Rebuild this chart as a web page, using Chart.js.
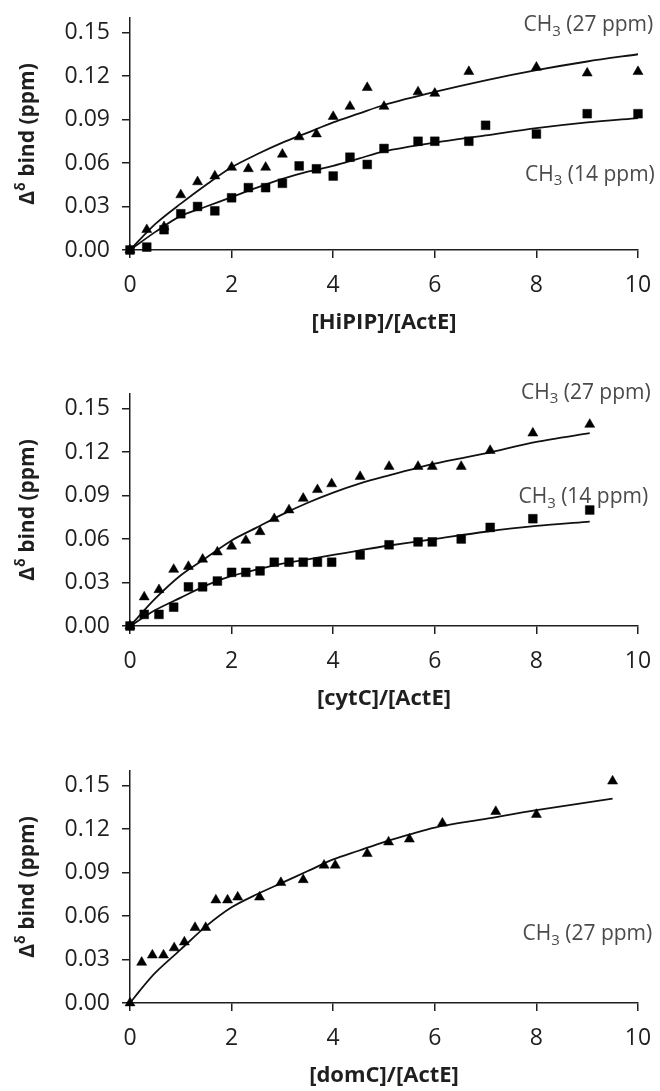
<!DOCTYPE html>
<html>
<head>
<meta charset="utf-8">
<script src="https://cdn.jsdelivr.net/npm/chart.js@4.4.1/dist/chart.umd.min.js"></script>
<style>
  html, body { margin: 0; padding: 0; background: #fff; overflow: hidden; width: 660px; height: 1091px; }
  .panel { position: absolute; left: 0; }
</style>
</head>
<body>
<canvas id="hipip" class="panel" width="660" height="345" style="top:0px"></canvas>
<canvas id="cytc" class="panel" width="660" height="345" style="top:376px"></canvas>
<canvas id="domc" class="panel" width="660" height="345" style="top:753px"></canvas>
<script>
// ---- data ----
// [HiPIP]/[ActE]
const hipipX27 = [0, 0.33, 0.67, 1, 1.33, 1.67, 2, 2.33, 2.67, 3, 3.33, 3.67, 4, 4.33, 4.67, 5, 5.67, 6, 6.67, 8, 9, 10];
const hipipY27 = [0, 0.014, 0.016, 0.038, 0.047, 0.051, 0.057, 0.056, 0.057, 0.066, 0.078, 0.080, 0.092, 0.099, 0.112, 0.099, 0.109, 0.108, 0.123, 0.126, 0.122, 0.123];
const hipipX14 = [0, 0.33, 0.67, 1, 1.33, 1.67, 2, 2.33, 2.67, 3, 3.33, 3.67, 4, 4.33, 4.67, 5, 5.67, 6, 6.67, 7, 8, 9, 10];
const hipipY14 = [0, 0.002, 0.014, 0.025, 0.030, 0.027, 0.036, 0.043, 0.043, 0.046, 0.058, 0.056, 0.051, 0.064, 0.059, 0.070, 0.075, 0.075, 0.075, 0.086, 0.080, 0.094, 0.094];
const hipipFitX = [0, 0.5, 1, 1.5, 2, 2.5, 3, 3.5, 4, 4.5, 5, 6, 7, 8, 9, 10];
const hipipFit27 = [0, 0.018, 0.032, 0.045, 0.057, 0.066, 0.074, 0.081, 0.088, 0.094, 0.100, 0.109, 0.117, 0.124, 0.130, 0.135];
const hipipFit14 = [0, 0.0125, 0.0235, 0.030, 0.0365, 0.043, 0.049, 0.054, 0.058, 0.063, 0.068, 0.074, 0.079, 0.084, 0.088, 0.091];

// [cytC]/[ActE]
const cytX = [0, 0.28, 0.57, 0.86, 1.15, 1.43, 1.72, 2.0, 2.28, 2.56, 2.84, 3.13, 3.41, 3.69, 3.97, 4.53, 5.1, 5.67, 5.95, 6.52, 7.09, 7.93, 9.05];
const cytY27 = [0, 0.020, 0.025, 0.039, 0.041, 0.046, 0.051, 0.055, 0.059, 0.065, 0.074, 0.080, 0.088, 0.094, 0.098, 0.103, 0.110, 0.110, 0.110, 0.110, 0.121, 0.133, 0.139];
const cytY14 = [0, 0.008, 0.008, 0.013, 0.027, 0.027, 0.031, 0.037, 0.037, 0.038, 0.044, 0.044, 0.044, 0.044, 0.044, 0.049, 0.056, 0.058, 0.058, 0.060, 0.068, 0.074, 0.080];
const cytFitX = [0, 0.5, 1, 1.5, 2, 2.5, 3, 3.5, 4, 4.5, 5, 6, 7, 8, 9.05];
const cytFit27 = [0, 0.019, 0.035, 0.047, 0.059, 0.068, 0.077, 0.085, 0.092, 0.098, 0.103, 0.112, 0.119, 0.127, 0.133];
const cytFit14 = [0, 0.011, 0.0196, 0.028, 0.0345, 0.039, 0.043, 0.046, 0.049, 0.052, 0.055, 0.060, 0.065, 0.069, 0.072];

// [domC]/[ActE]
const domX = [0, 0.23, 0.44, 0.66, 0.87, 1.07, 1.28, 1.49, 1.69, 1.92, 2.12, 2.55, 2.97, 3.41, 3.82, 4.04, 4.67, 5.09, 5.5, 6.15, 7.2, 8.0, 9.5];
const domY27 = [0, 0.028, 0.033, 0.033, 0.038, 0.042, 0.052, 0.052, 0.071, 0.071, 0.073, 0.073, 0.083, 0.085, 0.095, 0.095, 0.103, 0.111, 0.113, 0.124, 0.132, 0.130, 0.153];
const domFitX = [0, 0.25, 0.5, 1, 1.5, 2, 2.5, 3, 3.5, 4, 4.5, 5, 6, 7, 8, 9.5];
const domFit27 = [0, 0.011, 0.021, 0.037, 0.053, 0.066, 0.075, 0.083, 0.091, 0.099, 0.105, 0.111, 0.121, 0.127, 0.133, 0.141];

const xTicks = [0, 2, 4, 6, 8, 10];
const yTicks = [0, 0.03, 0.06, 0.09, 0.12, 0.15];

const FONT = "'Open Sans', 'Noto Sans', sans-serif";
const INK = '#1f1f1f';

function toPoints(xs, ys) {
    let pts = [];
    for (let i = 0; i < xs.length; i++) pts.push({x: xs[i], y: ys[i]});
    return pts;
}

function markers(xs, ys, shape) {
    return {
        data: toPoints(xs, ys),
        showLine: false,
        pointStyle: shape,
        pointRadius: shape == 'triangle' ? 5.8 : 6.2,
        pointHoverRadius: 0,
        backgroundColor: '#000',
        borderColor: '#000',
        borderWidth: 0.5,
        clip: false,
        order: 1
    };
}

function fitLine(xs, ys) {
    return {
        data: toPoints(xs, ys),
        showLine: true,
        pointRadius: 0,
        borderColor: '#111',
        borderWidth: 1.8,
        tension: 0.3,
        fill: false,
        clip: false,
        order: 2
    };
}

// y title with superscript delta, plus the CH3 labels
function notesPlugin(labels) {
    return {
        id: 'notes',
        afterDraw(chart) {
            let ctx = chart.ctx;
            let area = chart.chartArea;
            let big = `bold 21px ${FONT}`;
            let small = `bold 14px ${FONT}`;

            ctx.save();
            ctx.translate(26, (area.top + area.bottom) / 2);
            ctx.rotate(-Math.PI / 2);
            ctx.fillStyle = INK;
            ctx.textBaseline = 'alphabetic';
            ctx.font = big;
            let w1 = ctx.measureText('Δ').width;
            let w3 = ctx.measureText(' bind (ppm)').width;
            ctx.font = small;
            let w2 = ctx.measureText('δ').width;
            let x = -(w1 + w2 + w3) / 2;
            ctx.font = big; ctx.fillText('Δ', x, 8); x += w1;
            ctx.font = small; ctx.fillText('δ', x, -1); x += w2;
            ctx.font = big; ctx.fillText(' bind (ppm)', x, 8);
            ctx.restore();

            let xs = chart.scales.x, ys = chart.scales.y;
            labels.forEach(function(l) {
                let right = xs.getPixelForValue(l.x);
                let mid = ys.getPixelForValue(l.y);
                let normal = `21px ${FONT}`;
                let sub = `15px ${FONT}`;
                ctx.save();
                ctx.fillStyle = '#4a4a4a';
                ctx.textBaseline = 'middle';
                ctx.font = normal;
                let a = ctx.measureText(l.text[0]).width;
                let c = ctx.measureText(l.text[2]).width;
                ctx.font = sub;
                let b = ctx.measureText(l.text[1]).width;
                let x0 = right - a - b - c;
                ctx.font = normal; ctx.fillText(l.text[0], x0, mid);
                ctx.font = sub; ctx.fillText(l.text[1], x0 + a, mid + 6);
                ctx.font = normal; ctx.fillText(l.text[2], x0 + a + b, mid);
                ctx.restore();
            });
        }
    };
}

function drawPanel(id, xTitle, datasets, labels) {
    let ctx = document.getElementById(id).getContext('2d');
    return new Chart(ctx, {
        type: 'scatter',
        data: { datasets: datasets },
        options: {
            responsive: false,
            animation: false,
            events: [],
            layout: { padding: { top: 18, right: 22, left: 0, bottom: 0 } },
            plugins: { legend: { display: false }, tooltip: { enabled: false } },
            scales: {
                x: {
                    type: 'linear',
                    min: 0,
                    max: 10,
                    afterBuildTicks: function(scale) {
                        scale.ticks = xTicks.map(v => ({value: v}));
                    },
                    afterFit: function(scale) {
                        scale.height = 95;
                        scale.paddingLeft = 0;
                        scale.paddingRight = 0;
                    },
                    ticks: { padding: 14, color: INK, font: { size: 23, family: FONT } },
                    grid: { drawOnChartArea: false, tickLength: 8, color: INK, lineWidth: 1.5 },
                    border: { color: INK, width: 1.5 },
                    title: {
                        display: true,
                        text: xTitle,
                        color: INK,
                        font: { size: 22, weight: 'bold', family: FONT },
                        padding: { top: 0, bottom: 9 }
                    }
                },
                y: {
                    min: 0,
                    max: 0.16,
                    afterBuildTicks: function(scale) {
                        scale.ticks = yTicks.map(v => ({value: v}));
                    },
                    afterFit: function(scale) {
                        scale.width = 130;
                        scale.paddingTop = 0;
                        scale.paddingBottom = 0;
                    },
                    ticks: {
                        padding: 12,
                        color: INK,
                        font: { size: 23, family: FONT },
                        callback: v => v.toFixed(2)
                    },
                    grid: { drawOnChartArea: false, tickLength: 8, color: INK, lineWidth: 1.5 },
                    border: { color: INK, width: 1.5 }
                }
            }
        },
        plugins: [notesPlugin(labels)]
    });
}

drawPanel('hipip', '[HiPIP]/[ActE]', [
    markers(hipipX27, hipipY27, 'triangle'),
    markers(hipipX14, hipipY14, 'rect'),
    fitLine(hipipFitX, hipipFit27),
    fitLine(hipipFitX, hipipFit14)
], [
    { x: 10.3, y: 0.155, text: ['CH', '3', ' (27 ppm)'] },
    { x: 10.33, y: 0.052, text: ['CH', '3', ' (14 ppm)'] }
]);

drawPanel('cytc', '[cytC]/[ActE]', [
    markers(cytX, cytY27, 'triangle'),
    markers(cytX, cytY14, 'rect'),
    fitLine(cytFitX, cytFit27),
    fitLine(cytFitX, cytFit14)
], [
    { x: 10.25, y: 0.161, text: ['CH', '3', ' (27 ppm)'] },
    { x: 10.2, y: 0.0887, text: ['CH', '3', ' (14 ppm)'] }
]);

drawPanel('domc', '[domC]/[ActE]', [
    markers(domX, domY27, 'triangle'),
    fitLine(domFitX, domFit27)
], [
    { x: 10.28, y: 0.0473, text: ['CH', '3', ' (27 ppm)'] }
]);
</script>
</body>
</html>
